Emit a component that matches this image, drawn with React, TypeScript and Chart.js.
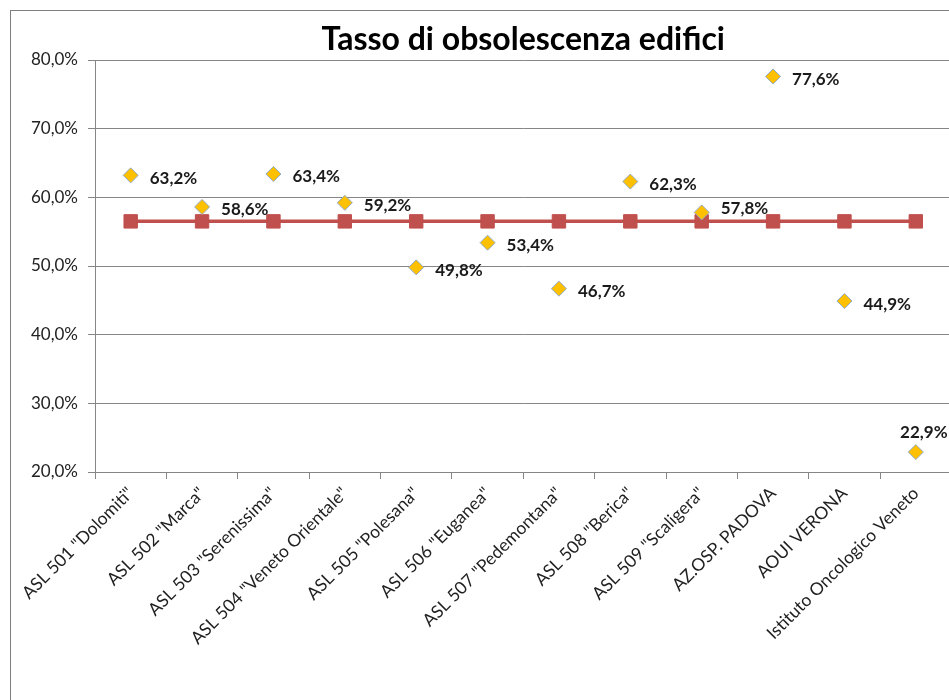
import React, { useEffect, useRef } from "react";
import { Chart, registerables } from "chart.js";

Chart.register(...registerables);

const chartTitle = "Tasso di obsolescenza edifici";

const categories = [
  'ASL 501 "Dolomiti"',
  'ASL 502 "Marca"',
  'ASL 503 "Serenissima"',
  'ASL 504 "Veneto Orientale"',
  'ASL 505 "Polesana"',
  'ASL 506 "Euganea"',
  'ASL 507 "Pedemontana"',
  'ASL 508 "Berica"',
  'ASL 509 "Scaligera"',
  "AZ.OSP. PADOVA",
  "AOUI VERONA",
  "Istituto Oncologico Veneto",
];

const obsolescenceRate = [63.2, 58.6, 63.4, 59.2, 49.8, 53.4, 46.7, 62.3, 57.8, 77.6, 44.9, 22.9];
const regionalAverage = [56.5, 56.5, 56.5, 56.5, 56.5, 56.5, 56.5, 56.5, 56.5, 56.5, 56.5, 56.5];

const yMin = 20;
const yMax = 80;
const yStep = 10;

const FONT = "Lato, 'Open Sans', 'Liberation Sans', sans-serif";

const fmtPct = (v: number) => v.toFixed(1).replace(".", ",") + "%";

const titlePlugin = {
  id: "centeredTitle",
  afterDraw(chart: any) {
    const { ctx, chartArea } = chart;
    ctx.save();
    ctx.font = `bold 32px ${FONT}`;
    ctx.fillStyle = "#000000";
    ctx.textAlign = "center";
    ctx.textBaseline = "alphabetic";
    ctx.fillText(chartTitle, (chartArea.left + chartArea.right) / 2, 39);
    ctx.restore();
  },
};

const valueLabelPlugin = {
  id: "valueLabels",
  afterDatasetsDraw(chart: any) {
    const { ctx } = chart;
    const meta = chart.getDatasetMeta(0);
    ctx.save();
    ctx.font = `bold 17px ${FONT}`;
    ctx.fillStyle = "#1a1a1a";
    ctx.textBaseline = "middle";
    meta.data.forEach((pt: any, i: number) => {
      const text = fmtPct(obsolescenceRate[i]);
      let x = pt.x + 19;
      let y = pt.y + 3;
      let align: CanvasTextAlign = "left";
      if (i === 8) {
        y = pt.y - 4;
      }
      if (i === 11) {
        x = pt.x + 8;
        y = pt.y - 20;
        align = "center";
      }
      ctx.textAlign = align;
      ctx.fillText(text, x, y);
    });
    ctx.restore();
  },
};

export default function App() {
  const canvasRef = useRef<HTMLCanvasElement | null>(null);

  useEffect(() => {
    if (!canvasRef.current) return;
    const chart = new Chart(canvasRef.current, {
      type: "line",
      data: {
        labels: categories,
        datasets: [
          {
            label: "Tasso di obsolescenza",
            data: obsolescenceRate,
            showLine: false,
            pointStyle: "rectRot",
            pointRadius: 7.5,
            pointBackgroundColor: "#FFC000",
            pointBorderColor: "#8FA9C6",
            pointBorderWidth: 1,
            backgroundColor: "#FFC000",
            borderColor: "#8FA9C6",
          },
          {
            label: "Media",
            data: regionalAverage,
            borderColor: "#C0504D",
            borderWidth: 3.5,
            pointStyle: "rect",
            pointRadius: 9.5,
            pointBackgroundColor: "#C0504D",
            pointBorderColor: "#C0504D",
            pointBorderWidth: 1,
            backgroundColor: "#C0504D",
            tension: 0,
          },
        ],
      },
      options: {
        animation: false,
        responsive: false,
        events: [],
        layout: { padding: { top: 49, right: 19.5, left: 0, bottom: 0 } },
        plugins: {
          legend: { display: false },
          title: { display: false },
          tooltip: { enabled: false },
        },
        scales: {
          x: {
            offset: true,
            grid: {
              offset: true,
              drawOnChartArea: false,
              drawTicks: true,
              tickLength: 7,
              color: "#868686",
              lineWidth: 1,
            },
            border: { display: true, color: "#868686", width: 1 },
            ticks: {
              autoSkip: false,
              maxRotation: 45,
              minRotation: 45,
              padding: 4,
              color: "#1f1f1f",
              font: { family: FONT, size: 17.5 },
            },
            afterFit(scale: any) {
              scale.height = 239;
            },
          },
          y: {
            min: yMin,
            max: yMax,
            ticks: {
              stepSize: yStep,
              padding: 10,
              color: "#222222",
              font: { family: FONT, size: 17 },
              callback: (v: any) => fmtPct(Number(v)),
            },
            grid: {
              color: "#868686",
              lineWidth: 1,
              drawTicks: true,
              tickLength: 7,
            },
            border: { display: true, color: "#868686", width: 1 },
            afterFit(scale: any) {
              scale.width = 84;
            },
          },
        },
      },
      plugins: [titlePlugin, valueLabelPlugin],
    });
    return () => chart.destroy();
  }, []);

  return (
    <div
      style={{
        position: "fixed",
        left: 0,
        top: 0,
        width: 949,
        height: 700,
        overflow: "hidden",
        background: "#ffffff",
      }}
    >
      <div
        style={{
          position: "absolute",
          left: 10,
          top: 10,
          width: 960,
          height: 700,
          borderLeft: "1px solid #7f7f7f",
          borderTop: "1px solid #7f7f7f",
          background: "#ffffff",
        }}
      >
        <canvas ref={canvasRef} width={960} height={700} style={{ display: "block" }} />
      </div>
    </div>
  );
}
